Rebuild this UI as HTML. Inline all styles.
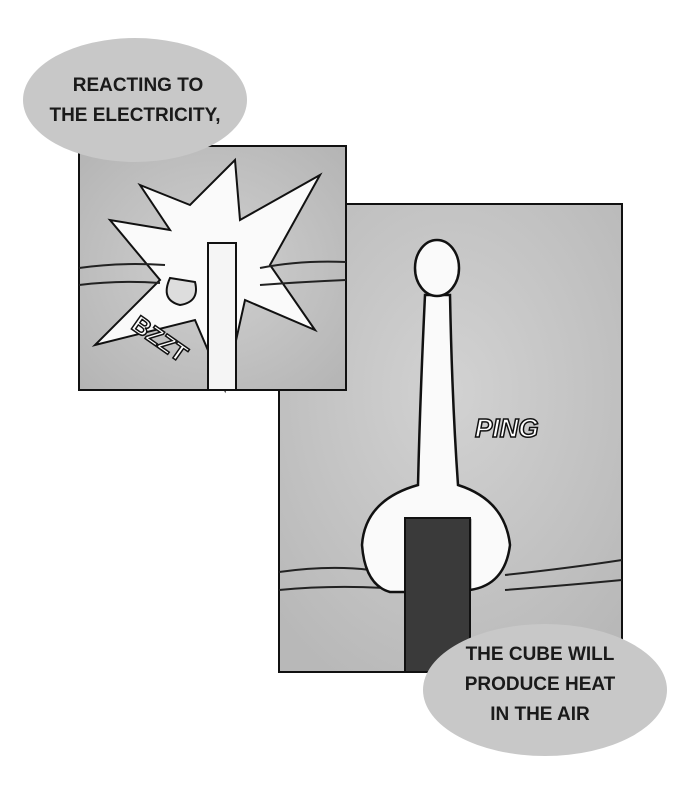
<!DOCTYPE html>
<html><head><style>
html,body{margin:0;padding:0;background:#fff;width:690px;height:790px;overflow:hidden}
</style></head><body>
<svg width="690" height="790" viewBox="0 0 690 790" xmlns="http://www.w3.org/2000/svg">
<defs>
<radialGradient id="g2" cx="50%" cy="40%" r="70%"><stop offset="0" stop-color="#d2d2d2"/><stop offset="1" stop-color="#b8b8b8"/></radialGradient>
<radialGradient id="g1" cx="50%" cy="50%" r="70%"><stop offset="0" stop-color="#d0d0d0"/><stop offset="1" stop-color="#b4b4b4"/></radialGradient>
</defs>
<!-- panel 2 -->
<rect x="279" y="204" width="343" height="468" fill="url(#g2)" stroke="#111" stroke-width="2"/>
<path d="M279 572 Q330 565 370 570" stroke="#222" stroke-width="2" fill="none"/>
<path d="M279 590 Q330 585 385 588" stroke="#222" stroke-width="2" fill="none"/>
<path d="M505 575 Q570 568 622 560" stroke="#222" stroke-width="2" fill="none"/>
<path d="M505 590 Q570 585 622 580" stroke="#222" stroke-width="2" fill="none"/>
<path d="M425 295 Q420 400 418 485 Q365 500 362 545 Q365 585 390 592 L410 592 L410 520 L470 520 L470 590 Q505 585 510 545 Q505 500 458 485 Q452 400 450 295 Z" fill="#fafafa" stroke="#111" stroke-width="2.5"/>
<ellipse cx="437" cy="268" rx="22" ry="28" fill="#fafafa" stroke="#111" stroke-width="2.5"/>
<rect x="405" y="518" width="65" height="154" fill="#3a3a3a" stroke="#111" stroke-width="2"/>
<text x="475" y="437" font-family="Liberation Sans, sans-serif" font-style="italic" font-weight="bold" font-size="26" fill="#fff" stroke="#111" stroke-width="1.5">PING</text>
<!-- panel 1 -->
<rect x="79" y="146" width="267" height="244" fill="url(#g1)" stroke="#111" stroke-width="2"/>
<polygon points="140,185 190,205 235,160 240,220 320,175 270,265 315,330 245,300 225,390 195,320 95,345 160,280 110,220 170,230" fill="#fafafa" stroke="#111" stroke-width="2"/>
<path d="M79 268 Q120 262 165 265 M79 285 Q120 280 160 283 M260 268 Q300 260 346 262 M260 285 Q300 282 346 280" stroke="#222" stroke-width="2" fill="none"/>
<rect x="208" y="243" width="28" height="147" fill="#f5f5f5" stroke="#111" stroke-width="2"/>
<path d="M170 278 Q160 300 180 305 Q200 302 195 282 Z" fill="#ddd" stroke="#111" stroke-width="2"/>
<text x="130" y="328" font-family="Liberation Sans, sans-serif" font-weight="bold" font-size="24" fill="#fff" stroke="#111" stroke-width="1.5" transform="rotate(35 130 328)">BZZT</text>
<!-- bubbles -->
<ellipse cx="135" cy="100" rx="112" ry="62" fill="#c8c8c8"/>
<text font-family="Liberation Sans, sans-serif" font-weight="bold" font-size="19" fill="#1a1a1a" text-anchor="middle"><tspan x="138" y="91">REACTING TO</tspan><tspan x="135" y="121">THE ELECTRICITY,</tspan></text>
<ellipse cx="545" cy="690" rx="122" ry="66" fill="#c8c8c8"/>
<text font-family="Liberation Sans, sans-serif" font-weight="bold" font-size="19" fill="#1a1a1a" text-anchor="middle"><tspan x="540" y="660">THE CUBE WILL</tspan><tspan x="540" y="690">PRODUCE HEAT</tspan><tspan x="540" y="720">IN THE AIR</tspan></text>
</svg>
</body></html>
